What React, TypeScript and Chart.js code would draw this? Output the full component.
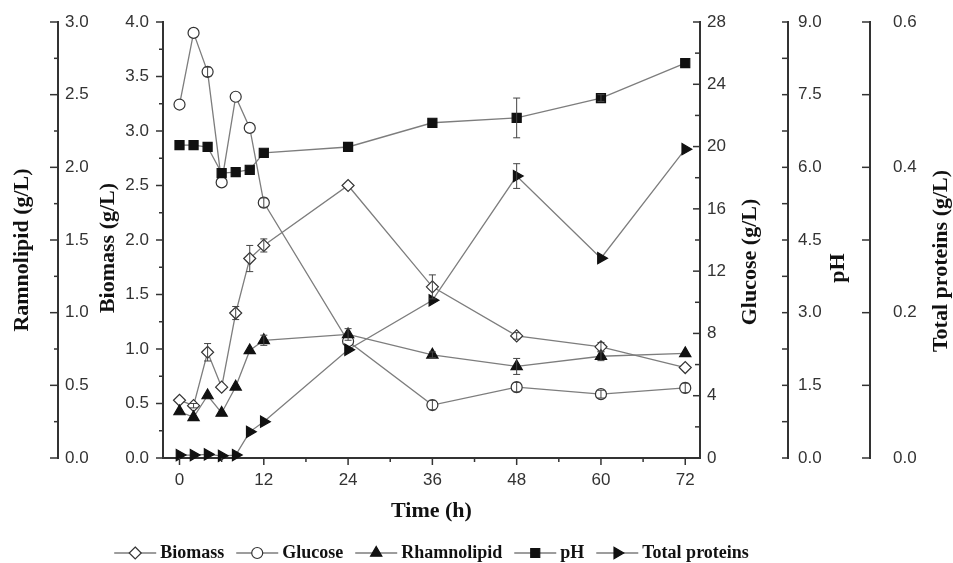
import React, { useEffect, useRef } from 'react';
import { Chart, registerables } from 'chart.js';

Chart.register(...registerables);

// ---- data ----
const timeH = [0, 2, 4, 6, 8, 10, 12, 24, 36, 48, 60, 72];
const biomass = [0.53, 0.48, 0.97, 0.65, 1.33, 1.83, 1.95, 2.5, 1.57, 1.12, 1.02, 0.83];
const biomassErr = [0, 0.02, 0.08, 0, 0.06, 0.12, 0.06, 0, 0.11, 0.03, 0.04, 0];
const glucose = [22.7, 27.3, 24.8, 17.7, 23.2, 21.2, 16.4, 7.5, 3.4, 4.55, 4.1, 4.5];
const glucoseErr = [0, 0, 0.3, 0, 0, 0, 0.3, 0, 0.3, 0.3, 0.25, 0.3];
const rhamnolipid = [0.32, 0.28, 0.43, 0.31, 0.49, 0.74, 0.81, 0.85, 0.71, 0.63, 0.7, 0.72];
const rhamnolipidErr = [0, 0, 0, 0, 0, 0, 0.035, 0.04, 0.02, 0.055, 0.03, 0];
const pH = [6.46, 6.46, 6.42, 5.88, 5.9, 5.95, 6.3, 6.42, 6.92, 7.02, 7.43, 8.15];
const pHErr = [0, 0, 0, 0, 0, 0, 0, 0, 0, 0.41, 0.07, 0];
const proteins = [0.004, 0.004, 0.005, 0.003, 0.004, 0.036, 0.05, 0.149, 0.217, 0.388, 0.275, 0.425];
const proteinsErr = [0, 0, 0, 0, 0, 0, 0, 0, 0, 0.017, 0, 0];

// ---- tick labels ----
const timeTicks = [0, 12, 24, 36, 48, 60, 72];
const rhamTicks = [0, 0.5, 1, 1.5, 2, 2.5, 3];
const biomassTicks = [0, 0.5, 1, 1.5, 2, 2.5, 3, 3.5, 4];
const glucoseTicks = [0, 4, 8, 12, 16, 20, 24, 28];
const pHTicks = [0, 1.5, 3, 4.5, 6, 7.5, 9];
const proteinTicks = [0, 0.2, 0.4, 0.6];

const legendNames = ['Biomass', 'Glucose', 'Rhamnolipid', 'pH', 'Total proteins'];
const legendMarkers = ['diamond', 'circle', 'triangle', 'square', 'triRight'];

const X_MIN = -2.35;
const X_MAX = 74.1;

const mids = (a: number[]) => a.slice(1).map((v, i) => (v + a[i]) / 2);
const pts = (ys: number[]) => timeH.map((t, i) => ({ x: t, y: ys[i] }));

const SANS = '"Liberation Sans", Arial, sans-serif';
const SERIF = '"Liberation Serif", "Times New Roman", serif';
const AXIS = '#333';
const LINE = '#7d7d7d';

const tickSpecs = [
  { id: 'x', major: timeTicks, minor: [6, 18, 30, 42, 54, 66], side: 'x', dir: 1, majorLen: 7, minorLen: 4 },
  { id: 'yRham', major: rhamTicks, minor: mids(rhamTicks), side: 'right', dir: -1, majorLen: 8, minorLen: 4 },
  { id: 'yBio', major: biomassTicks, minor: mids(biomassTicks), side: 'right', dir: -1, majorLen: 7, minorLen: 4 },
  { id: 'yGlu', major: glucoseTicks, minor: mids(glucoseTicks), side: 'left', dir: -1, majorLen: 7, minorLen: 5 },
  { id: 'yPH', major: pHTicks, minor: mids(pHTicks), side: 'left', dir: -1, majorLen: 6, minorLen: 6 },
  { id: 'yTP', major: proteinTicks, minor: mids(proteinTicks), side: 'left', dir: -1, majorLen: 8, minorLen: 8 },
];

const titleSpecs = [
  { id: 'yRham', text: 'Ramnolipid (g/L)', dx: 22, dy: 10 },
  { id: 'yBio', text: 'Biomass (g/L)', dx: 50, dy: 8 },
  { id: 'yGlu', text: 'Glucose (g/L)', dx: 50, dy: 22 },
  { id: 'yPH', text: 'pH', dx: 50, dy: 28 },
  { id: 'yTP', text: 'Total proteins (g/L)', dx: 71, dy: 21 },
];

function markerPath(ctx: CanvasRenderingContext2D, kind: string, x: number, y: number) {
  ctx.beginPath();
  if (kind === 'diamond') {
    const r = 6;
    ctx.moveTo(x, y - r); ctx.lineTo(x + r, y); ctx.lineTo(x, y + r); ctx.lineTo(x - r, y); ctx.closePath();
  } else if (kind === 'circle') {
    ctx.arc(x, y, 5.5, 0, Math.PI * 2);
  } else if (kind === 'triangle') {
    const r = 6.5;
    ctx.moveTo(x, y - r); ctx.lineTo(x + r * 0.866, y + r / 2); ctx.lineTo(x - r * 0.866, y + r / 2); ctx.closePath();
  } else if (kind === 'square') {
    ctx.rect(x - 4.5, y - 4.5, 9, 9);
  } else {
    const r = 6.5;
    ctx.moveTo(x + r, y); ctx.lineTo(x - r / 2, y + r * 0.866); ctx.lineTo(x - r / 2, y - r * 0.866); ctx.closePath();
  }
}

const customTicks = {
  id: 'customTicks',
  afterDraw(chart: any) {
    const ctx = chart.ctx as CanvasRenderingContext2D;
    ctx.save();
    ctx.strokeStyle = AXIS;
    ctx.lineWidth = 1.5;
    tickSpecs.forEach((s) => {
      const sc = chart.scales[s.id];
      if (!sc) return;
      const draw = (v: number, len: number) => {
        const p = sc.getPixelForValue(v);
        ctx.beginPath();
        if (s.side === 'x') {
          ctx.moveTo(p, sc.top);
          ctx.lineTo(p, sc.top + len);
        } else {
          const base = s.side === 'right' ? sc.right : sc.left;
          ctx.moveTo(base, p);
          ctx.lineTo(base + s.dir * len, p);
        }
        ctx.stroke();
      };
      s.major.forEach((v) => draw(v, s.majorLen));
      s.minor.forEach((v) => draw(v, s.minorLen));
    });
    ctx.restore();
  },
};

const axisTitles = {
  id: 'axisTitles',
  afterDraw(chart: any) {
    const ctx = chart.ctx as CanvasRenderingContext2D;
    const ca = chart.chartArea;
    const cy = (ca.top + ca.bottom) / 2;
    ctx.save();
    ctx.fillStyle = '#111';
    ctx.font = `bold 22px ${SERIF}`;
    ctx.textAlign = 'center';
    ctx.textBaseline = 'middle';
    titleSpecs.forEach((t) => {
      const sc = chart.scales[t.id];
      if (!sc) return;
      ctx.save();
      ctx.translate(sc.left + t.dx, cy + t.dy);
      ctx.rotate(-Math.PI / 2);
      ctx.fillText(t.text, 0, 0);
      ctx.restore();
    });
    ctx.restore();
  },
};

const errorBars = {
  id: 'errorBars',
  afterDatasetsDraw(chart: any) {
    const ctx = chart.ctx as CanvasRenderingContext2D;
    ctx.save();
    ctx.strokeStyle = '#444';
    ctx.lineWidth = 1;
    chart.data.datasets.forEach((ds: any, i: number) => {
      const errs: number[] | undefined = ds.errors;
      if (!errs) return;
      const meta = chart.getDatasetMeta(i);
      const ys = chart.scales[ds.yAxisID];
      meta.data.forEach((el: any, j: number) => {
        const e = errs[j];
        if (!e) return;
        const v = ds.data[j].y;
        const top = ys.getPixelForValue(v + e);
        const bot = ys.getPixelForValue(v - e);
        const x = el.x;
        ctx.beginPath();
        ctx.moveTo(x, top); ctx.lineTo(x, bot);
        ctx.moveTo(x - 3.5, top); ctx.lineTo(x + 3.5, top);
        ctx.moveTo(x - 3.5, bot); ctx.lineTo(x + 3.5, bot);
        ctx.stroke();
      });
    });
    ctx.restore();
  },
};

const customLegend = {
  id: 'customLegend',
  afterDraw(chart: any) {
    const ctx = chart.ctx as CanvasRenderingContext2D;
    const ca = chart.chartArea;
    const y = 553;
    const sampleW = 42;
    const gapText = 4;
    const gapItem = 12;
    ctx.save();
    ctx.font = `bold 18px ${SERIF}`;
    const widths = legendNames.map((n) => ctx.measureText(n).width);
    const total = widths.reduce((a, b) => a + b, 0) + legendNames.length * (sampleW + gapText) + (legendNames.length - 1) * gapItem;
    let x = (ca.left + ca.right) / 2 - total / 2;
    legendNames.forEach((name, i) => {
      ctx.strokeStyle = LINE;
      ctx.lineWidth = 1.3;
      ctx.beginPath();
      ctx.moveTo(x, y); ctx.lineTo(x + sampleW, y);
      ctx.stroke();
      const kind = legendMarkers[i];
      markerPath(ctx, kind, x + sampleW / 2, y);
      const open = kind === 'diamond' || kind === 'circle';
      ctx.fillStyle = open ? '#fff' : '#111';
      ctx.fill();
      ctx.strokeStyle = open ? '#333' : '#111';
      ctx.lineWidth = 1.2;
      ctx.stroke();
      ctx.fillStyle = '#111';
      ctx.textAlign = 'left';
      ctx.textBaseline = 'middle';
      ctx.fillText(name, x + sampleW + gapText, y);
      x += sampleW + gapText + widths[i] + gapItem;
    });
    ctx.restore();
  },
};

function yScale(id: string, position: 'left' | 'right', weight: number, min: number, max: number, ticks: number[], width: number, padding: number, mirror: boolean) {
  return {
    type: 'linear',
    position,
    weight,
    min,
    max,
    grid: { display: false, drawTicks: false },
    border: { display: true, color: AXIS, width: 2 },
    title: { display: false },
    afterBuildTicks: (s: any) => { s.ticks = ticks.map((v) => ({ value: v })); },
    afterFit: (s: any) => { s.width = width; s.paddingTop = 0; s.paddingBottom = 0; },
    ticks: {
      mirror,
      padding,
      autoSkip: false,
      color: AXIS,
      font: { family: SANS, size: 17 },
      callback: (v: any) => (id === 'yGlu' ? String(v) : Number(v).toFixed(1)),
    },
  };
}

export default function App() {
  const ref = useRef<HTMLCanvasElement | null>(null);
  useEffect(() => {
    if (!ref.current) return;
    const common = { borderColor: LINE, borderWidth: 1.3, tension: 0, clip: false as any, pointBorderWidth: 1.2, pointHoverRadius: 6 };
    const chart = new Chart(ref.current, {
      type: 'line',
      data: {
        datasets: [
          { ...common, label: 'Rhamnolipid', data: pts(rhamnolipid), yAxisID: 'yRham', pointStyle: 'triangle', pointRadius: 6.5, pointBackgroundColor: '#111', pointBorderColor: '#111', errors: rhamnolipidErr } as any,
          { ...common, label: 'pH', data: pts(pH), yAxisID: 'yPH', pointStyle: 'rect', pointRadius: 6.4, pointBackgroundColor: '#111', pointBorderColor: '#111', errors: pHErr } as any,
          { ...common, label: 'Total proteins', data: pts(proteins), yAxisID: 'yTP', pointStyle: 'triangle', pointRotation: 90, pointRadius: 6.5, pointBackgroundColor: '#111', pointBorderColor: '#111', errors: proteinsErr } as any,
          { ...common, label: 'Biomass', data: pts(biomass), yAxisID: 'yBio', pointStyle: 'rectRot', pointRadius: 6, pointBackgroundColor: '#fff', pointBorderColor: '#333', errors: biomassErr } as any,
          { ...common, label: 'Glucose', data: pts(glucose), yAxisID: 'yGlu', pointStyle: 'circle', pointRadius: 5.5, pointBackgroundColor: '#fff', pointBorderColor: '#333', errors: glucoseErr } as any,
        ],
      },
      options: {
        responsive: false,
        maintainAspectRatio: false,
        animation: false,
        devicePixelRatio: 1,
        layout: { padding: { top: 22, left: 0, right: 0, bottom: 0 } },
        plugins: { legend: { display: false }, tooltip: { enabled: false } },
        scales: {
          x: {
            type: 'linear',
            position: 'bottom',
            min: X_MIN,
            max: X_MAX,
            grid: { display: false, drawTicks: false },
            border: { display: true, color: AXIS, width: 2 },
            afterBuildTicks: (s: any) => { s.ticks = timeTicks.map((v) => ({ value: v })); },
            afterFit: (s: any) => { s.height = 105; s.paddingLeft = 0; s.paddingRight = 0; },
            ticks: { padding: 12, autoSkip: false, maxRotation: 0, color: AXIS, font: { family: SANS, size: 17 }, callback: (v: any) => String(v) },
            title: { display: true, text: 'Time (h)', color: '#111', font: { family: SERIF, size: 22, weight: 'bold' }, padding: { top: 0, bottom: 38 } },
          },
          yRham: yScale('yRham', 'left', 2, 0, 3, rhamTicks, 58, 7, true),
          yBio: yScale('yBio', 'left', 1, 0, 4, biomassTicks, 105, 14, false),
          yGlu: yScale('yGlu', 'right', 0, 0, 28, glucoseTicks, 88, 7, false),
          yPH: yScale('yPH', 'right', 1, 0, 9, pHTicks, 82, 10, false),
          yTP: yScale('yTP', 'right', 2, 0, 0.6, proteinTicks, 83, 23, false),
        } as any,
      },
      plugins: [errorBars, customTicks, axisTitles, customLegend],
    } as any);
    return () => chart.destroy();
  }, []);
  return (
    <div style={{ position: 'absolute', left: 0, top: 0, width: 953, height: 563, background: '#fff' }}>
      <canvas ref={ref} width={953} height={563} style={{ display: 'block' }} />
    </div>
  );
}
